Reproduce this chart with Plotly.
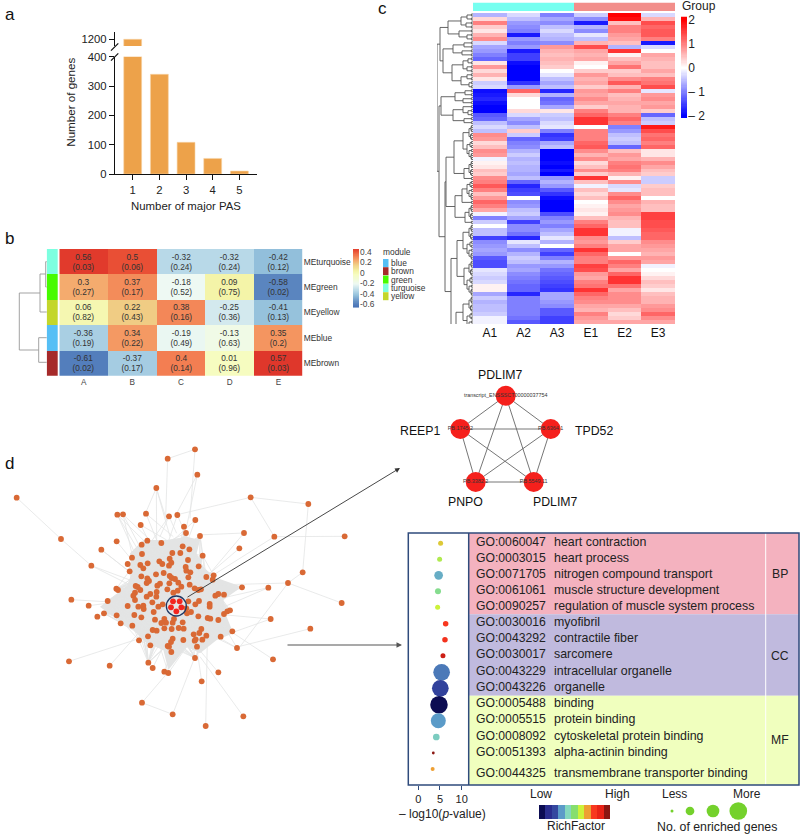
import plotly.graph_objects as go
import itertools

W, H = 800, 834
FONT = "Liberation Sans"

# ---------- panel a ----------
pas_number = [1, 2, 3, 4, 5]
genes_count = [1200, 340, 108, 53, 10]

# ---------- panel b ----------
trait_labels = ["A", "B", "C", "D", "E"]
module_eigengenes = ["MEturquoise", "MEgreen", "MEyellow", "MEblue", "MEbrown"]
cor_turquoise = [0.56, 0.5, -0.32, -0.32, -0.42]
cor_green = [0.3, 0.37, -0.18, 0.09, -0.58]
cor_yellow = [0.06, 0.22, 0.38, -0.25, -0.41]
cor_blue = [-0.36, 0.34, -0.19, -0.13, 0.35]
cor_brown = [-0.61, -0.37, 0.4, 0.01, 0.57]
p_turquoise = ["0.03", "0.06", "0.24", "0.24", "0.12"]
p_green = ["0.27", "0.17", "0.52", "0.75", "0.02"]
p_yellow = ["0.82", "0.43", "0.16", "0.36", "0.13"]
p_blue = ["0.19", "0.22", "0.49", "0.63", "0.2"]
p_brown = ["0.02", "0.17", "0.14", "0.96", "0.03"]
module_names = ["blue", "brown", "green", "turquoise", "yellow"]
cbar_b_ticks = [0.4, 0.2, 0, -0.2, -0.4, -0.6]

# ---------- panel c : scaled expression, one list per sample, top to bottom ----------
sample_names = ["A1", "A2", "A3", "E1", "E2", "E3"]
A1 = [-0.6,0.3,1.0,0.4,0.2,0.6,0.9,-0.3,-0.7,-0.8,-1.0,-1.2,0.2,0.8,0.3,0.6,0.2,-0.4,-0.3,-1.9,-1.8,-1.7,-1.9,-2,-2,-1.3,-1.2,-0.5,-0.3,-0.5,0.9,0.8,0.3,0.5,0.9,0.8,-0.1,0.1,0.2,0.5,0.4,0.9,
      1.0,1.3,1.0,0.5,0.8,1.2,1.0,0.7,-0.1,-1.0,-0.4,0.0,-0.5,-0.5,-1.5,-0.9,-0.8,-0.7,-0.8,-1.3,-1.4,-1.4,-0.2,-0.3,-0.4,-0.3,0.1,0.1,-0.7,-0.4,-0.6,-0.5,-0.5,-0.4,-0.1,-0.1]
A2 = [-0.3,-0.5,-0.8,-0.9,-1.0,-1.8,-0.8,-1.0,-0.8,-1.8,-1.5,-1.5,-1.9,-2,-2,-2,-2,-1.6,-0.8,1.2,0.3,0.0,0.0,0.0,0.3,-0.3,-0.7,-0.9,-0.5,0.4,-0.4,-1.2,-1.0,-0.9,-0.6,-0.4,-0.6,-0.5,-0.6,-0.6,-0.7,-0.5,
      -1.2,-1.7,-1.5,-1.4,0.0,-0.9,-0.8,-0.5,-0.4,-0.7,-1.5,-0.9,-0.9,-1.1,-1.7,-0.2,-0.5,-0.9,-0.6,-0.4,-0.5,-0.8,-0.7,-0.9,-1.0,-1.1,-1.2,-1.2,-1.7,-1.0,-1.0,-1.0,-1.0,-1.0,-1.1,-1.3]
A3 = [-1.0,-0.7,-0.9,-0.5,-0.3,-0.5,-0.6,-0.9,0.8,0.6,0.5,0.6,0.5,0.4,0.0,-0.2,-0.5,-0.7,-0.5,-1.7,-0.6,-1.2,-1.1,-0.7,0.2,-0.4,-0.5,-0.3,-0.2,-1,-1.6,-1.5,-0.7,-0.5,-2,-2,-2,-1.9,-2,-1.8,-2,-0.8,
      -0.6,-0.8,-1.3,-1.6,-1.9,-2,-2,-2.0,-1.4,-1.0,-0.8,-1.0,-0.7,-0.5,-0.2,-0.6,0,-1.2,-1.5,-1.0,-0.6,-0.8,-1.1,-1.2,-1.3,-1.4,-1.5,-1.6,-0.7,-0.7,-0.8,-0.9,-1.3,-1.3,-1.5,-1.5]
E1 = [-0.4,-0.9,-1.8,-0.6,-0.9,-0.2,-0.5,0.6,1.4,0.7,0.6,0.7,0.1,0.0,0.4,0.8,0.6,0.7,0.4,0.8,0.7,0.9,0.7,0.4,1.0,1.2,1.6,1.6,0.0,1.0,1.0,1.0,1.2,1.3,0.9,0.6,0.9,0.3,0.5,0.9,0.4,1.6,
      0.5,-0.1,0.5,0.3,0.5,0.0,0.1,0.2,0.1,0.5,1.0,1.2,1.6,1.6,0.9,0.8,1.0,1.6,1.2,1.0,1.0,1.5,1.4,0.8,0.7,1.0,1.1,1.6,1.2,1.0,0.9,0.7,0.6,1.0,0.8,0.7]
E2 = [2,1.9,0.5,1.0,1.0,0.8,0.7,0.5,-0.6,1.6,0.1,0.5,0.7,1.1,0.4,0.5,0.9,1.3,0.6,1.0,0.5,0.6,0.7,0.6,0.6,1.0,1.2,1.0,-1.0,-0.8,-0.5,-0.4,-0.5,-1.2,0.5,0.8,0.7,1.0,1.1,1.0,0.6,0.1,
      0.9,-0.3,-0.2,0.9,1.2,0.9,0.7,0.8,0.9,0.6,0.5,0.5,-0.1,-0.1,-0.5,0.4,0.7,0.7,0.0,0.8,1.2,1.0,0.7,1.2,1.6,1.6,1.1,0.7,0.9,0.9,0.9,0.7,0.5,0.3,0.4,0.7]
E3 = [-0.3,0.6,1.4,1.2,1.3,1.3,1.0,-1.8,-0.3,0,0.7,0.6,0.5,0.5,0.7,0.5,1.0,1.1,1.4,-0.2,0.8,0.9,0.7,0.8,0.4,-1.2,-0.5,-0.4,1.8,1.4,1.1,1.2,1.0,1.2,0.2,0.2,0.6,0.9,0.7,0.5,0.4,-0.4,
      -0.4,0.4,0.5,0.5,0,0.6,0.5,0.5,1.5,1.5,1.4,1.4,1.3,1.2,1.2,0.9,0.8,0.7,0.6,0.8,0.7,-0.1,0,0.1,0.3,0.5,0.4,0.2,0.5,0.6,0.6,0.8,0.9,1.2,0.9,0.7]
cbar_c_ticks = [2, 1, 0, -1, -2]

# dendrogram of panel c: [height, child, child], 0 = next leaf
p4 = [4, [2, 0, 0], [2.5, 0, 0]]
q5 = [6, [3, 0, 0], [4, 0, [2, 0, 0]]]
c1 = [25, [12, [6, 0, 0], [7, 0, 0]], [14, 0, [6, 0, 0]]]
c2 = [30, [20, [9, 0, 0], [11, 0, 0]], [21, [10, [5, 0, 0], [6, 0, 0]], [12, [6, 0, 0], [4, 0, 0]]]]
c3 = [32, [18, [8, 0, 0], [10, 0, 0]], [20, [10, 0, [5, 0, 0]], [9, 0, 0]]]
c4 = [27, [19, [10, p4, q5], [9, p4, 0]], [18, [11, q5, 0], [8, p4, 0]]]
c5 = [22, [16, [10, p4, q5], [9, p4, q5]], [17, [10, p4, q5], [6, 0, [3, 0, 0]]]]
tree_c = [36, [33, c1, c2], [34, c3, [28, c4, c5]]]

# ---------- panel d : network, positions ----------
net_x = [585,503,592,469,50,752,925,352,369,438,507,532,586,422,552,558,600,732,823,1034,183,350,304,442,425,484,548,568,718,426,517,541,608,396,509,564,478,487,514,507,443,383,421,430,274,389,557,559,571,596,908,468,491,424,509,565,619,641,638,442,447,440,480,472,525,515,535,508,544,569,864,805,726,407,413,349,354,421,502,533,520,584,603,595,470,405,400,451,440,469,655,646,672,214,405,323,266,383,415,430,431,457,475,488,565,597,586,629,629,461,561,573,559,312,292,350,403,424,595,623,631,655,672,682,690,465,493,522,518,498,484,548,362,397,604,536,551,493,515,458,470,581,598,619,662,697,812,931,444,417,550,518,587,584,607,513,451,503,507,591,711,514,585,819,445,207,329,458,493,505,655,605,426,518,730,617,1025]
net_y = [28,56,104,144,173,172,192,224,223,221,229,225,240,255,260,279,288,279,290,289,297,304,329,302,314,309,319,328,325,342,339,339,347,353,356,360,364,372,368,377,370,372,375,385,377,394,381,392,397,379,397,403,399,409,408,412,411,406,419,415,423,429,431,437,417,414,428,430,440,434,429,443,442,438,441,446,450,450,448,452,458,445,448,450,456,458,467,462,470,470,462,467,464,479,480,483,497,498,500,497,507,487,500,493,484,483,493,492,500,516,520,516,505,520,530,526,525,532,529,534,536,540,522,514,511,539,537,537,548,548,549,547,550,557,567,564,566,565,567,570,572,583,579,587,590,574,537,566,589,601,600,596,598,602,599,606,616,618,620,620,624,636,654,658,668,664,677,684,695,699,697,724,788,823,829,858,489]
hub_x = [519,539,513,544,529]
hub_y = [484,484,502,502,514]
core_x = [500,560,600,590,610,640,725,670,680,700,650,600,560,505,490,440,400,340,300,380,395,390,430]
core_y = [300,290,300,340,380,410,440,480,530,580,600,640,620,690,630,610,570,530,500,440,400,340,300]
edge_x0 = [585,503,585,592,592,469,469,469,469,50,183,274,752,752,752,823,823,925,908,864,864,864,805,732,732,718,214,266,292,312,207,329,426,426,518,730,617,605,655,819,931,812,812,711,304,350,352,352,352,369,369,369,422,422,438,438,507,507,507,532,532,552,586,586,600,349,274,304,426,493,505,505,458,445,585,585,591,711,711,697,726,726,805]
edge_y0 = [28,56,28,104,104,144,144,144,144,173,297,377,172,172,172,290,290,192,397,429,429,429,443,279,279,325,479,497,530,520,664,677,788,788,823,829,858,724,697,658,566,537,537,624,329,304,224,224,224,223,223,223,255,255,221,221,229,229,229,225,225,260,240,240,288,446,377,329,342,695,699,699,684,668,654,654,620,624,624,574,442,442,443]
edge_x1 = [503,497,570,530,560,432,500,510,470,183,274,390,925,540,823,1034,640,908,864,1025,720,640,650,590,630,630,400,400,390,400,420,415,518,510,585,600,622,590,590,640,715,680,690,620,395,420,420,400,440,430,450,400,470,500,520,470,450,480,530,560,500,540,520,560,600,440,400,420,400,520,560,480,500,470,520,620,540,600,650,620,640,600,640]
edge_y1 = [56,230,235,220,260,230,240,290,300,297,377,420,192,222,290,289,405,397,429,489,620,435,510,285,400,400,490,480,500,500,595,580,823,690,650,650,600,620,620,540,620,525,580,580,400,390,340,330,310,340,300,360,350,300,290,300,310,290,280,290,320,310,300,310,370,470,440,420,400,620,620,620,600,610,610,600,560,560,520,520,430,500,480]
# index steps used to tie the dense core together (connectivity there cannot be read individually)
core_steps = [7, 13, 23, 31, 43, 59, 71, 89]

# small network
sub_x = [505.7, 550.7, 533.7, 475.7, 460.3]
sub_y = [395.7, 429, 482, 482, 429]
sub_transcripts = ["transcript_ENSSSCT00000037754", "PB.6364.1", "PB.5549.11", "PB.3382.2", "PB.1745.2"]
sub_genes = ["PDLIM7", "TPD52", "PDLIM7", "PNPO", "REEP1"]

# GO table
go_ids = ["GO:0060047","GO:0003015","GO:0071705","GO:0061061","GO:0090257","GO:0030016","GO:0043292","GO:0030017","GO:0043229","GO:0043226","GO:0005488","GO:0005515","GO:0008092","GO:0051393","GO:0044325"]
go_terms = ["heart contraction","heart process","nitrogen compound transport","muscle structure development","regulation of muscle system process","myofibril","contractile fiber","sarcomere","intracellular organelle","organelle","binding","protein binding","cytoskeletal protein binding","alpha-actinin binding","transmembrane transporter binding"]
go_log10p = [5.15,4.92,4.69,4.54,4.46,6.31,6.15,5.69,5.38,5.08,4.77,4.62,4.15,3.46,3.31]
go_gene_size = [5,5,8.7,6,5,5.5,5.5,5,16.7,16.7,17.5,15,6.7,2.8,4]
go_rich = [6.5,5.6,3.3,4.6,6.0,8,8.3,9.3,2.6,1.8,0,3,3.8,10,7]
go_row_px = [543.3,559.3,575.3,591.3,607.3,623.7,639.7,655.7,672.3,688.3,704.7,720.7,737,753,769]
rich_levels = [0,1,2,3,4,5,6,7,8,9,10]
size_legend = [3,8.7,12.7,17.7]

RICH_SCALE = ["#0C0C52","#2A2D8E","#34479F","#5B9BC8","#84D8BE","#86DE6E","#CCF23A","#EE9F33","#F8381F","#E82317","#8B1712"]
rich_cs = [[i/10, c] for i, c in enumerate(RICH_SCALE)]
BWR = [[0, "#0000FF"], [0.5, "#FFFFFF"], [1, "#FF0000"]]
B_POINTS = [(-0.67,"#4570B5"),(-0.58,"#5A85BF"),(-0.42,"#92BFDB"),(-0.32,"#B8D9E8"),(-0.18,"#EEF9F3"),(0.01,"#F6FCC0"),(0.09,"#F4F4A8"),(0.22,"#F0CC84"),(0.3,"#F4AB6E"),(0.4,"#F37E52"),(0.5,"#E94F35"),(0.6,"#DB2C26")]
b_cs = [[(v+0.67)/1.27, c] for v, c in B_POINTS]

fig = go.Figure()
layout = {}
ann = []
shapes = []
n_ax = 0

def axes(x0, x1, y0, y1, xr, yr, xkw=None, ykw=None):
    """Axis pair covering the pixel box x0..x1, y0..y1 (y from top)."""
    global n_ax
    n_ax += 1
    s = "" if n_ax == 1 else str(n_ax)
    hidden = dict(visible=False, fixedrange=True, automargin=False)
    layout["xaxis" + s] = {**hidden, "domain": [x0 / W, x1 / W], "range": xr, "anchor": "y" + s, **(xkw or {})}
    layout["yaxis" + s] = {**hidden, "domain": [1 - y1 / H, 1 - y0 / H], "range": yr, "anchor": "x" + s, **(ykw or {})}
    return "x" + s, "y" + s

def txt(x, y, text, size=11, color="#222", xanchor="center", angle=0):
    ann.append(dict(xref="paper", yref="paper", x=x / W, y=1 - y / H, text=text, showarrow=False,
                    xanchor=xanchor, yanchor="middle", textangle=angle, borderpad=0, borderwidth=0,
                    font=dict(size=size, color=color, family=FONT)))

def line(x0, y0, x1, y1, color="#000", width=1):
    shapes.append(dict(type="line", xref="paper", yref="paper", x0=x0 / W, x1=x1 / W, y0=1 - y0 / H, y1=1 - y1 / H,
                       line=dict(color=color, width=width)))

def rect(x0, y0, x1, y1, fill, lw=0, lc=None, layer="below"):
    shapes.append(dict(type="rect", xref="paper", yref="paper", x0=x0 / W, x1=x1 / W, y0=1 - y0 / H, y1=1 - y1 / H,
                       fillcolor=fill, line=dict(color=lc or fill, width=lw), layer=layer))

for t, x, y in [("a", 5, 14), ("b", 5, 238), ("c", 378, 8), ("d", 5, 463)]:
    txt(x, y, t, size=17, color="#111", xanchor="left")

# ---------- a ----------
BAR = "#EDA24A"
AX = dict(visible=True, showline=True, linecolor="#111", linewidth=1.4, ticks="outside", ticklen=5, tickwidth=1.4,
          tickcolor="#111", showgrid=False, zeroline=False, tickfont=dict(size=11.3, family=FONT, color="#222"))
xa, ya = axes(115, 257, 56.7, 174, [0.336, 5.66], [0, 400],
              xkw={**AX, "tickvals": pas_number}, ykw={**AX, "tickvals": [0, 100, 200, 300, 400]})
fig.add_bar(x=pas_number, y=genes_count, marker=dict(color=BAR, line=dict(color="#F7D3A5", width=0.6)), xaxis=xa, yaxis=ya)
xa, ya = axes(115, 257, 32, 46, [0.336, 5.66], [1100, 1309],
              ykw={**AX, "tickvals": [1200]})
fig.add_bar(x=pas_number, y=genes_count, marker=dict(color=BAR, line=dict(color="#F7D3A5", width=0.6)), xaxis=xa, yaxis=ya)
line(111, 50.7, 118.3, 43.3, "#111", 1.2)
line(111, 60.7, 118.3, 53.3, "#111", 1.2)
txt(71, 102.7, "Number of genes", 11.6, angle=-90)
txt(186, 205.7, "Number of major PAS", 11.4)

# ---------- b ----------
cor = [cor_turquoise, cor_green, cor_yellow, cor_blue, cor_brown]
pv = [p_turquoise, p_green, p_yellow, p_blue, p_brown]
labels = [[f"{c}<br>({p})" for c, p in zip(rc, rp)] for rc, rp in zip(cor, pv)]
tk = dict(visible=True, ticks="", showline=False, showgrid=False, zeroline=False)
xa, ya = axes(59.3, 302.7, 249, 375.7, [-0.5, 4.5], [4.5, -0.5],
              xkw={**tk, "tickvals": list(range(5)), "ticktext": trait_labels, "tickfont": dict(size=8.2, color="#444", family=FONT)},
              ykw={**tk, "side": "right", "tickvals": list(range(5)), "ticktext": module_eigengenes, "tickfont": dict(size=8.4, color="#333", family=FONT)})
fig.add_heatmap(z=cor, text=labels, texttemplate="%{text}", textfont=dict(size=8.3, color="#333", family=FONT),
                colorscale=b_cs, zmin=-0.67, zmax=0.6, showscale=False, xaxis=xa, yaxis=ya, hoverinfo="skip")
# module colour strip
mod_order = [3, 2, 4, 0, 1]
mod_cols = ["#56BFF5", "#A52A2A", "#46FB00", "#7DFFE0", "#C3D62B"]
xa, ya = axes(46.7, 58, 249, 375.7, [-0.5, 0.5], [4.5, -0.5])
fig.add_heatmap(z=[[m] for m in mod_order], colorscale=[[i / 4, c] for i, c in enumerate(mod_cols)], zmin=0, zmax=4,
                showscale=False, xaxis=xa, yaxis=ya, hoverinfo="skip")
# legend colour bar
bar_levels = [v / 100 for v in range(-67, 46)]
xa, ya = axes(353, 359, 249, 307.7, [0, 1], [-0.67, 0.45],
              ykw={**tk, "side": "right", "tickvals": cbar_b_ticks, "ticktext": ["0.4", "0.2", "0", "-0.2", "-0.4", "-0.6"],
                   "tickfont": dict(size=8.4, color="#444", family=FONT)})
fig.add_heatmap(z=[[v] for v in bar_levels], y=bar_levels, x=[0.5], colorscale=b_cs, zmin=-0.67, zmax=0.5, showscale=False,
                xaxis=xa, yaxis=ya, hoverinfo="skip")
txt(383, 252, "module", 8.4, "#333", xanchor="left")
for i, (name, yy) in enumerate(zip(module_names, [263, 271.2, 279.6, 288, 296.2])):
    rect(383, yy - 4, 388.5, yy + 4, mod_cols[i])
    txt(391, yy, name, 8.4, "#333", xanchor="left")
# dendrogram of b
b_dx = [45.7,45.7,None,45.7,46.7,None,45.7,46.7,None,40,40,None,40,45.7,None,40,46.7,None,38.7,38.7,None,38.7,46.7,None,38.7,46.7,None,19.3,19.3,None,19.3,40,None,19.3,38.7]
b_dy = [261.7,287,None,261.7,261.7,None,287,287,None,274,312,None,274,274,None,312,312,None,337.7,362.3,None,337.7,337.7,None,362.3,362.3,None,293,350,None,293,293,None,350,350]

# ---------- c ----------
series = [A1, A2, A3, E1, E2, E3]
rows = [list(r) for r in zip(*series)]
xa, ya = axes(473, 675, 13, 324, [-0.5, 5.5], [len(rows) - 0.5, -0.5],
              xkw={**tk, "tickvals": list(range(6)), "ticktext": sample_names, "tickfont": dict(size=12, color="#111", family=FONT)})
fig.add_heatmap(z=rows, colorscale=BWR, zmin=-2, zmax=2, showscale=False, xaxis=xa, yaxis=ya, hoverinfo="skip")
xa, ya = axes(473, 675, 2.5, 11, [-0.5, 1.5], [0, 1])
fig.add_heatmap(z=[[0, 1]], colorscale=[[0, "#76FFF0"], [1, "#F28E8A"]], zmin=0, zmax=1, showscale=False,
                xaxis=xa, yaxis=ya, hoverinfo="skip", y=[0.5])
txt(699, 6, "Group", 12, "#222")
c_levels = [v / 20 for v in range(-42, 44)]
xa, ya = axes(681, 687.3, 16.7, 118, [0, 1], [-2.08, 2.14],
              ykw={**tk, "side": "right", "tickvals": cbar_c_ticks, "ticktext": ["2", "1", "0", "– 1", "– 2"],
                   "tickfont": dict(size=12, color="#222", family=FONT)})
fig.add_heatmap(z=[[v] for v in c_levels], y=c_levels, x=[0.5], colorscale=BWR, zmin=-2, zmax=2, showscale=False,
                xaxis=xa, yaxis=ya, hoverinfo="skip")

# dendrogram of c drawn in axes sharing the heatmap rows
dx, dy = [], []
leaf = [0]
def walk(node):
    if node == 0:
        r = leaf[0]
        leaf[0] += 1
        dx.extend([1.6, 1.6, None, 1.6, 0, None, 1.6, 0, None])
        dy.extend([r - 0.25, r + 0.25, None, r - 0.25, r - 0.25, None, r + 0.25, r + 0.25, None])
        return 1.6, r
    h, a, b = node
    ha, ya_ = walk(a)
    hb, yb_ = walk(b)
    dx.extend([h, h, None, h, ha, None, h, hb, None])
    dy.extend([ya_, yb_, None, ya_, ya_, None, yb_, yb_, None])
    return h, (ya_ + yb_) / 2
walk(tree_c)
xa, ya = axes(437, 473, 13, 324, [36, 0], [len(rows) - 0.5, -0.5])
fig.add_scatter(x=dx, y=dy, mode="lines", line=dict(color="#555", width=0.9), xaxis=xa, yaxis=ya, hoverinfo="skip")

# ---------- d network ----------
xa, ya = axes(0, 360, 440, 820, [0, 1080], [1140, 0])
fig.add_scatter(x=core_x, y=core_y, mode="lines", fill="toself", fillcolor="#E3E4E4", line=dict(width=0), xaxis=xa, yaxis=ya, hoverinfo="skip")
ex, ey = [], []
for a, b, c, d in zip(edge_x0, edge_y0, edge_x1, edge_y1):
    ex += [a, c, None]
    ey += [b, d, None]
inner = [(x, y) for x, y in zip(net_x, net_y) if (x - 505) ** 2 + (y - 470) ** 2 < 215 ** 2]
for step in core_steps:
    for i, (a, b) in enumerate(inner):
        c, d = inner[(i + step) % len(inner)]
        ex += [a, c, None]
        ey += [b, d, None]
fig.add_scatter(x=ex, y=ey, mode="lines", line=dict(color="#E3E4E4", width=0.8), xaxis=xa, yaxis=ya, hoverinfo="skip")
fig.add_scatter(x=net_x, y=net_y, mode="markers", marker=dict(color="#D96935", size=5.8), xaxis=xa, yaxis=ya, hoverinfo="skip")
fig.add_scatter(x=hub_x, y=hub_y, mode="markers", marker=dict(color="#F3251F", size=5.8), xaxis=xa, yaxis=ya, hoverinfo="skip")
shapes.append(dict(type="circle", xref=xa, yref=ya, x0=499, x1=559, y0=468, y1=528, line=dict(color="#1F3864", width=1.3)))

# arrows
ann.append(dict(xref="paper", yref="paper", x=400 / W, y=1 - 468 / H, ax=-214, ay=130, axref="pixel", ayref="pixel", text="",
                showarrow=True, arrowhead=2, arrowsize=1.1, arrowwidth=0.9, arrowcolor="#333"))
ann.append(dict(xref="paper", yref="paper", x=402 / W, y=1 - 645 / H, ax=-116, ay=0, axref="pixel", ayref="pixel", text="",
                showarrow=True, arrowhead=2, arrowsize=1, arrowwidth=1.1, arrowcolor="#555"))

# small network
xa, ya = axes(400, 620, 360, 530, [400, 620], [530, 360])
sx, sy = [], []
for i, j in itertools.combinations(range(5), 2):
    sx += [sub_x[i], sub_x[j], None]
    sy += [sub_y[i], sub_y[j], None]
fig.add_scatter(x=sx, y=sy, mode="lines", line=dict(color="#666", width=0.9), xaxis=xa, yaxis=ya, hoverinfo="skip")
fig.add_scatter(x=sub_x, y=sub_y, mode="markers+text", marker=dict(color="#F5201C", size=20), text=sub_transcripts,
                textposition="middle center", textfont=dict(size=5.4, color="#333", family=FONT), xaxis=xa, yaxis=ya,
                hoverinfo="skip", cliponaxis=False)
for name, x, y in zip(sub_genes, [500, 594, 555, 465, 420], [375, 431, 502, 502, 431]):
    txt(x, y, name, 12.3, "#111")

# ---------- GO table ----------
NAVY = "#2F4B7C"
rect(468.7, 533, 799, 614.3, "#F4B2BF")
rect(468.7, 614.3, 799, 695.7, "#C0BADE")
rect(468.7, 695.7, 799, 785, "#F0FFBE")
line(765.7, 533, 765.7, 785, "#FFFFFF", 1)
for g, t, yy in zip(go_ids, go_terms, go_row_px):
    yt = yy - 1.3 if yy < 765 else yy + 4
    txt(475.7, yt, g, 12.2, "#222", xanchor="left")
    txt(554.3, yt, t, 12.4, "#222", xanchor="left")
for t, yy in [("BP", 574), ("CC", 655.7), ("MF", 740)]:
    txt(780, yy, t, 12.2, "#222")
xa, ya = axes(408.3, 468.7, 533, 785, [-2.31, 11.63], [785, 533],
              xkw={"visible": True, "tickvals": [0, 5, 10], "ticks": "outside", "ticklen": 4, "tickcolor": NAVY, "tickwidth": 1,
                   "showgrid": False, "zeroline": False, "showline": False, "tickfont": dict(size=11, color="#222", family=FONT)})
fig.add_scatter(x=go_log10p, y=go_row_px, mode="markers",
                marker=dict(size=go_gene_size, color=go_rich, colorscale=rich_cs, cmin=0, cmax=10, opacity=1, line=dict(width=0)),
                xaxis=xa, yaxis=ya, hoverinfo="skip")
rect(408.3, 533, 799, 785, "rgba(0,0,0,0)", 1.5, NAVY, layer="above")
line(468.7, 533, 468.7, 785, NAVY, 1.5)
txt(442, 814, "– log10(<i>p</i>-value)", 12)

# legends
xa, ya = axes(539, 610, 805, 819, [-0.5, 10.5], [0, 1])
fig.add_heatmap(z=[rich_levels], y=[0.5], colorscale=rich_cs, zmin=0, zmax=10, showscale=False, xaxis=xa, yaxis=ya, hoverinfo="skip")
txt(540.7, 794, "Low", 12)
txt(617, 794, "High", 12)
txt(576, 826, "RichFactor", 12)
txt(674, 794, "Less", 12)
txt(747, 794, "More", 12)
txt(717, 826.5, "No. of enriched genes", 12.3)
xa, ya = axes(660, 760, 800, 822, [660, 760], [822, 800])
fig.add_scatter(x=[672, 690, 713, 738.3], y=[811, 811, 811, 811], mode="markers",
                marker=dict(size=size_legend, color="#74D12C", opacity=1, line=dict(width=0)), xaxis=xa, yaxis=ya, hoverinfo="skip")

# dendrogram of b on a full-canvas pixel axis
xa, ya = axes(0, W, 0, H, [0, W], [H, 0])
fig.add_scatter(x=b_dx, y=b_dy, mode="lines", line=dict(color="#999", width=0.9), xaxis=xa, yaxis=ya, hoverinfo="skip")

fig.update_layout(width=W, height=H, autosize=False, margin=dict(l=0, r=0, t=0, b=0), showlegend=False,
                  paper_bgcolor="#FFFFFF", plot_bgcolor="rgba(0,0,0,0)", bargap=0.33,
                  font=dict(family=FONT), annotations=ann, shapes=shapes, **layout)
fig.write_html("out.html", config=dict(displayModeBar=False), post_script="document.body.style.margin='0';")
